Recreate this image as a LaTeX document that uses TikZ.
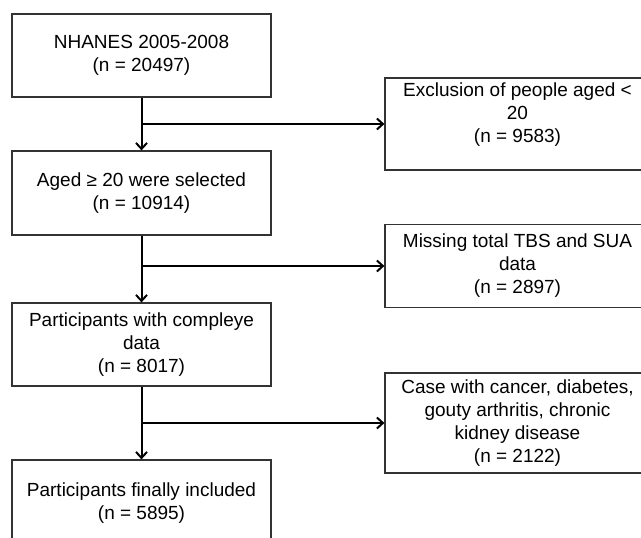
\documentclass[tikz,border=0pt]{standalone}
\usepackage{fontspec}
\setmainfont{Liberation Sans}
\usetikzlibrary{arrows.meta}

\begin{document}
\begin{tikzpicture}[x=1pt,y=-1pt,>={Straight Barb[length=6pt,width=11pt]},
    box/.style={draw=black!80,line width=1.2pt,align=center,inner sep=0pt,
        font=\fontsize{19}{23}\selectfont},
    mainbox/.style={box,minimum width=259pt},
    sidebox/.style={box,minimum width=265pt},
    flow/.style={->,line width=2pt}]
    \useasboundingbox (0,0) rectangle (641,538);
    \clip (0,0) rectangle (641,538);
    % main column
    \node[mainbox,minimum height=83pt] (nhanes) at (141.5,55.5) {NHANES 2005-2008\\(n = 20497)};
    \node[mainbox,minimum height=84pt] (aged) at (141.5,193) {Aged ≥ 20 were selected\\(n = 10914)};
    \node[mainbox,minimum height=83pt] (complete) at (141.5,344.5) {Participants with compleye\\data\\(n = 8017)};
    \node[mainbox,minimum height=87pt] (final) at (141.5,503.5) {Participants finally included\\(n = 5895)};
    % exclusions
    \node[sidebox,minimum height=92pt] (excl) at (517.5,124) {Exclusion of people aged <\\20\\(n = 9583)\\\mbox{}};
    \node[sidebox,minimum height=83pt] (missing) at (517.5,266) {Missing total TBS and SUA\\data\\(n = 2897)};
    \node[sidebox,minimum height=100pt] (disease) at (517.5,423) {Case with cancer, diabetes,\\gouty arthritis, chronic\\kidney disease\\(n = 2122)};
    \draw[flow] (nhanes) -- (aged);
    \draw[flow] (aged) -- (complete);
    \draw[flow] (complete) -- (final);
    \draw[flow] (nhanes.south |- excl.west) -- (excl.west);
    \draw[flow] (aged.south |- missing.west) -- (missing.west);
    \draw[flow] (complete.south |- disease.west) -- (disease.west);
\end{tikzpicture}
\end{document}
